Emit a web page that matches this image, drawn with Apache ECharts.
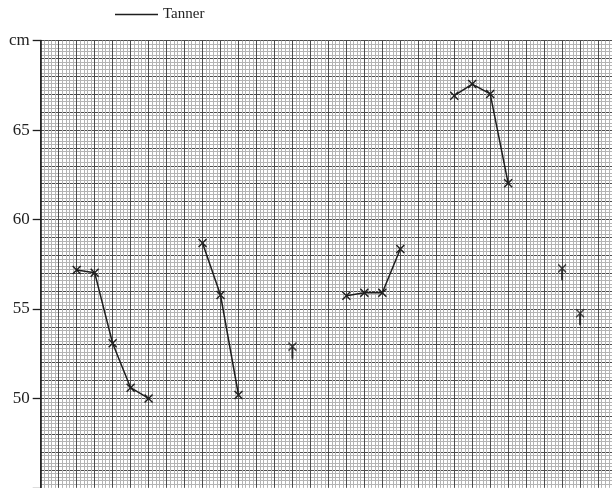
<!DOCTYPE html>
<html>
<head>
<meta charset="utf-8">
<script src="https://cdn.jsdelivr.net/npm/echarts@6/dist/echarts.min.js"></script>
<style>
  html, body { margin: 0; padding: 0; background: #fff; overflow: hidden; }
  #chart { width: 624px; height: 488px; }
</style>
</head>
<body>
<div id="chart"></div>
<script>
// Tanner's measurements (cm), plotted as separate runs on the graph paper.
// Each run: x positions (paper columns) and the measured values.
const runAx = [2, 3, 4, 5, 6];
const runAy = [57.18, 57.03, 53.08, 50.6, 50.0];
const runBx = [9, 10, 11];
const runBy = [58.69, 55.78, 50.19];
const runCx = [17, 18, 19, 20];
const runCy = [55.74, 55.91, 55.91, 58.35];
const runDx = [23, 24, 25, 26];
const runDy = [66.92, 67.57, 67.02, 62.02];
// Single readings, drawn without connecting lines
const singleX = [14, 29, 30];
const singleY = [52.89, 57.27, 54.76];

// Value-axis labels: 50..65 every 5, unit label at the top
const yLabelValues = [50, 55, 60, 65];
const yUnitLabel = 'cm';

const ink = '#1e1e1e';
const serif = '"Liberation Serif", "DejaVu Serif", serif';
const cellX = 17.98;  // px per column
const cellY = 17.89;  // px per cm

const crossPath = 'path://M0,0L8,8M8,0L0,8';
// cross with a short stroke trailing below it
const crossTailPath = 'path://M0,0L8,8M8,0L0,8M3.5,4L4.5,4L4.5,15L3.5,15Z';

function pairs(xs, ys) { return xs.map((x, i) => [x, ys[i]]); }

function runSeries(xs, ys) {
  return {
    name: 'Tanner', type: 'line',
    xAxisIndex: 0, yAxisIndex: 0,
    data: pairs(xs, ys),
    symbol: crossPath, symbolSize: 8,
    itemStyle: { color: 'none', borderColor: ink, borderWidth: 1.4 },
    lineStyle: { color: ink, width: 1.5 },
    emphasis: { disabled: true },
    animation: false, z: 5
  };
}

const chart = echarts.init(document.getElementById('chart'), null, { renderer: 'canvas' });

const option = {
  animation: false,
  backgroundColor: '#ffffff',
  legend: {
    left: 115, top: 7, padding: 0,
    data: [{ name: 'Tanner', icon: 'rect', itemStyle: { color: ink, borderWidth: 0 } }],
    itemWidth: 43, itemHeight: 1.5,
    textStyle: { fontFamily: serif, fontSize: 15, color: '#222' },
    selectedMode: false
  },
  grid: { left: 40.7, top: 40.6, width: 32 * cellX, height: 25 * cellY, containLabel: false },
  xAxis: [{
    type: 'value', min: 0, max: 32, interval: 1,
    axisLine: { show: false }, axisTick: { show: false }, axisLabel: { show: false },
    splitLine: { show: true, lineStyle: { color: '#4c4c4c', width: 1 } },
    minorTick: { show: false, splitNumber: 5 },
    minorSplitLine: { show: true, lineStyle: { color: '#b4b4b4', width: 1 } }
  }],
  yAxis: [{
    type: 'value', min: 45, max: 70, interval: 1,
    axisLine: { show: false }, axisTick: { show: false }, axisLabel: { show: false },
    splitLine: { show: true, lineStyle: { color: '#4c4c4c', width: 1 } },
    minorTick: { show: false, splitNumber: 5 },
    minorSplitLine: { show: true, lineStyle: { color: '#b4b4b4', width: 1 } }
  }, {
    type: 'value', min: 45, max: 70, interval: 5, position: 'left', offset: 0,
    axisLine: { show: true, onZero: false, lineStyle: { color: ink, width: 1.6 } },
    axisTick: { show: true, length: 8, lineStyle: { color: ink, width: 1.3 } },
    axisLabel: {
      margin: 11,
      fontFamily: serif, fontSize: 17, color: '#222',
      formatter: v => v === 70 ? yUnitLabel : (yLabelValues.includes(v) ? String(v) : '')
    },
    splitLine: { show: false }
  }],
  series: [
    runSeries(runAx, runAy),
    runSeries(runBx, runBy),
    runSeries(runCx, runCy),
    runSeries(runDx, runDy),
    {
      name: 'Tanner', type: 'scatter',
      xAxisIndex: 0, yAxisIndex: 0,
      data: pairs(singleX, singleY),
      symbol: crossTailPath, symbolSize: [8, 15], symbolOffset: [0, 3.5],
      itemStyle: { color: ink, borderColor: ink, borderWidth: 1.4 },
      emphasis: { disabled: true },
      z: 5
    }
  ]
};

chart.setOption(option);
</script>
</body>
</html>
